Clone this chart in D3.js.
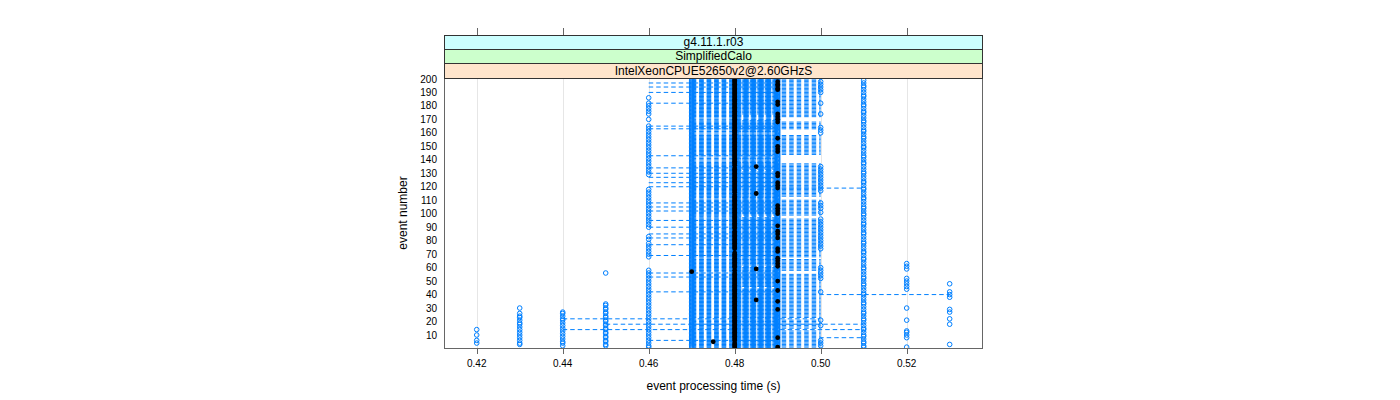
<!DOCTYPE html>
<html><head><meta charset="utf-8">
<script src="https://cdn.jsdelivr.net/npm/d3@7"></script>
<style>body{margin:0;background:#fff} svg{display:block} text{font-family:"Liberation Sans",Arial,sans-serif;fill:#000}</style>
</head><body><svg id="c" width="1400" height="400"></svg>
<script>
// ---------------- data ----------------
const allEvents = d3.range(1, 201);            // event numbers (categories)
const stripLabels = ["g4.11.1.r03", "SimplifiedCalo", "IntelXeonCPUE52650v2@2.60GHzS"];
const xTicks = [0.42, 0.44, 0.46, 0.48, 0.50, 0.52];
const yTicks = [10, 20, 30, 40, 50, 60, 70, 80, 90, 100, 110, 120, 130, 140, 150, 160, 170, 180, 190, 200];

// events that have an (open) measurement at each time value
const ev042 = [4, 6, 10, 14];
const ev043 = [3, 4, 6, 8, 10, 12, 14, 16, 18, 19, 21, 23, 24, 26, 30];
const ev044 = [2, 4, 5, 7, 9, 11, 13, 15, 17, 19, 21, 22, 24, 26, 27];
const ev045 = [2, 3, 5, 6, 8, 9, 11, 12, 14, 15, 17, 18, 20, 21, 23, 24, 26, 27, 29, 30, 32, 33, 56];
const ev046 = [186, 182, 180, 178, 176, 174, 170, 165, 163, 161, 159, 157, 155, 153, 151, 149, 147, 145, 143, 141, 139, 137, 135, 133, 131, 129,
  118, 116, 114, 112, 110, 108, 106, 104, 102, 100, 98, 96, 94, 92, 90, 83, 81, 78, 76, 74, 72, 70, 68, 58, 56, 54, 52, 50, 48, 46, 44, 42,
  40, 38, 36, 34, 32, 30, 28, 26, 24, 22, 20, 18, 16, 14, 12, 10, 8, 6, 4, 2, 1];
const ev047 = allEvents;
const ev048 = allEvents;
const ev049 = allEvents;
const ev050 = [198, 196, 194, 192, 190, 182, 174, 164, 162, 160, 135, 133, 131, 129, 127, 125, 123, 121, 119, 117, 108, 106, 104, 101,
  96, 94, 92, 90, 88, 86, 84, 82, 80, 78, 76, 74, 60, 58, 56, 54, 52, 42, 21, 17, 6, 4, 2];
const ev051 = [1, 2, 4, 5, 7, 9, 10, 12, 14, 15, 17, 19, 21, 22, 24, 26, 27, 29, 31, 33, 34, 36, 38, 40, 41, 43, 45, 47, 48, 50, 52, 53, 55,
  57, 59, 60, 62, 64, 66, 67, 69, 71, 72, 74, 76, 78, 79, 81, 83, 85, 86, 88, 90, 92, 93, 95, 97, 99, 100, 102, 104, 105, 107, 109, 111,
  112, 114, 116, 118, 119, 121, 123, 124, 126, 128, 130, 131, 133, 135, 137, 138, 140, 142, 143, 145, 147, 149, 150, 152, 154, 156, 157,
  159, 161, 162, 164, 166, 168, 169, 171, 173, 175, 176, 178, 180, 181, 183, 185, 187, 188, 190, 192, 194, 195, 197, 199];
const ev052 = [63, 61, 59, 52, 50, 48, 46, 44, 30, 21, 13, 12, 10, 8, 1];
const ev053 = [48, 42, 40, 38, 29, 27, 22, 18, 3];

// median markers (filled)
const med048Missing = [5, 57, 59, 72, 73, 88, 115, 135];
const med049 = [198, 196, 195, 193, 192, 183, 181, 174, 172, 170, 168, 156, 150, 148, 146, 130, 128, 123, 121, 119, 106, 104, 102, 100,
  91, 87, 85, 82, 74, 72, 67, 65, 63, 61, 50, 43, 35, 29, 8, 1];
const med0485 = [135, 115, 59, 36];
const med047 = [57];
const med0475 = [5];

// dashed range lines
const base047to049 = allEvents;
const skip048to049 = [170, 171, 172, 173, 143, 132, 99, 98, 61, 45];
const skip049to048 = [176, 175, 160, 159, 141, 140, 98, 97, 62, 46, 45];
const ranges047to050 = [[1, 7], [9, 13], [15, 21], [23, 39], [41, 55], [58, 66], [68, 96], [99, 110], [113, 137], [144, 158], [163, 168], [172, 200]];
const from046Events = [197, 194, 190, 182, 165, 163, 143, 134, 130, 127, 123, 120, 108, 105, 102, 95, 90, 85, 82, 77, 69, 56, 53, 42, 6];
const extraEvent = [22, 18, 14, 8, 119, 40];
const extraFrom  = [0.44, 0.45, 0.44, 0.47, 0.47, 0.47];
const extraTo    = [0.50, 0.51, 0.51, 0.51, 0.51, 0.53];

// ---------------- build ----------------
const columns = [[0.42, ev042], [0.43, ev043], [0.44, ev044], [0.45, ev045], [0.46, ev046], [0.47, ev047], [0.48, ev048],
  [0.49, ev049], [0.50, ev050], [0.51, ev051], [0.52, ev052], [0.53, ev053]];
const points = [];
columns.forEach(([t, evs]) => evs.forEach(e => points.push({t, e})));

const segs = [];
base047to049.forEach(e => segs.push({e, a: 0.47, b: 0.49}));
allEvents.filter(e => !skip048to049.includes(e)).forEach(e => segs.push({e, a: 0.48, b: 0.49}));
allEvents.filter(e => !skip049to048.includes(e)).forEach(e => segs.push({e, a: 0.49, b: 0.48}));
ranges047to050.forEach(([s, f]) => { for (const e of allEvents) if (e >= s && e <= f) segs.push({e, a: 0.47, b: 0.50}); });
from046Events.forEach(e => segs.push({e, a: 0.46, b: 0.49}));
extraEvent.forEach((e, i) => segs.push({e, a: extraFrom[i], b: extraTo[i]}));

const meds = [];
allEvents.filter(e => !med048Missing.includes(e)).forEach(e => meds.push({e, t: 0.48}));
med049.forEach(e => meds.push({e, t: 0.49}));
med0485.forEach(e => meds.push({e, t: 0.485}));
med047.forEach(e => meds.push({e, t: 0.47}));
med0475.forEach(e => meds.push({e, t: 0.475}));

// ---------------- draw ----------------
const P = {l: 444, r: 983, t: 78, b: 348};
const svg = d3.select("#c");
const x = d3.scaleLinear().domain([0.41239, 0.53775]).range([P.l, P.r]);
const y = d3.scaleLinear().domain([0.35, 200.7]).range([P.b, P.t]);
const blue = "#0080ff";

svg.append("defs").append("clipPath").attr("id", "clip")
  .append("rect").attr("x", P.l).attr("y", P.t).attr("width", P.r - P.l).attr("height", P.b - P.t);

// grid
svg.append("g").selectAll("line").data(xTicks).join("line")
  .attr("x1", d => Math.round(x(d)) + 0.5).attr("x2", d => Math.round(x(d)) + 0.5)
  .attr("y1", P.t).attr("y2", P.b).attr("stroke", "#e6e6e6").attr("stroke-width", 1);

const g = svg.append("g").attr("clip-path", "url(#clip)");
g.append("g").selectAll("line").data(segs).join("line")
  .attr("x1", d => x(d.a)).attr("x2", d => x(d.b))
  .attr("y1", d => y(d.e)).attr("y2", d => y(d.e))
  .attr("stroke", blue).attr("stroke-width", 1).attr("stroke-dasharray", "4.5,3");
g.append("g").selectAll("circle").data(points).join("circle")
  .attr("cx", d => x(d.t)).attr("cy", d => y(d.e)).attr("r", 2.3)
  .attr("fill", "none").attr("stroke", blue).attr("stroke-width", 1);
g.append("g").selectAll("circle").data(meds).join("circle")
  .attr("cx", d => x(d.t)).attr("cy", d => y(d.e)).attr("r", 2.4)
  .attr("fill", "#000");

// panel border
svg.append("rect").attr("x", P.l + 0.5).attr("y", P.t + 0.5).attr("width", P.r - P.l - 1).attr("height", P.b - P.t)
  .attr("fill", "none").attr("stroke", "#666");

// strips
const stripCols = ["#ccffff", "#ccffcc", "#ffe5cc"];
const stripY = [35, 49, 63, 78];
stripLabels.forEach((lab, i) => {
  svg.append("rect").attr("x", P.l + 0.5).attr("y", stripY[i] + 0.5).attr("width", P.r - P.l - 1).attr("height", stripY[i + 1] - stripY[i])
    .attr("fill", stripCols[i]).attr("stroke", "#333");
  svg.append("text").attr("x", (P.l + P.r) / 2).attr("y", (stripY[i] + stripY[i + 1]) / 2 + 4.3)
    .attr("text-anchor", "middle").attr("font-size", 12).text(lab);
});

// x axis ticks (bottom + top)
const tk = svg.append("g");
tk.selectAll("line.b").data(xTicks).join("line").attr("class", "b")
  .attr("x1", d => Math.round(x(d)) + 0.5).attr("x2", d => Math.round(x(d)) + 0.5)
  .attr("y1", P.b).attr("y2", P.b + 6).attr("stroke", "#666");
tk.selectAll("line.t").data(xTicks).join("line").attr("class", "t")
  .attr("x1", d => Math.round(x(d)) + 0.5).attr("x2", d => Math.round(x(d)) + 0.5)
  .attr("y1", 28).attr("y2", 35).attr("stroke", "#666");
tk.selectAll("text").data(xTicks).join("text")
  .attr("x", d => x(d)).attr("y", 366.5).attr("text-anchor", "middle").attr("font-size", 10)
  .text(d => d3.format(".2f")(d));

// y tick labels
svg.append("g").selectAll("text").data(yTicks).join("text")
  .attr("x", 437).attr("y", d => y(d) + 3.6).attr("text-anchor", "end").attr("font-size", 10).text(d => d);

// axis titles
svg.append("text").attr("x", (P.l + P.r) / 2).attr("y", 390).attr("text-anchor", "middle").attr("font-size", 12)
  .text("event processing time (s)");
svg.append("text").attr("transform", `translate(407,${(P.t + P.b) / 2}) rotate(-90)`).attr("text-anchor", "middle")
  .attr("font-size", 12).text("event number");
</script></body></html>
